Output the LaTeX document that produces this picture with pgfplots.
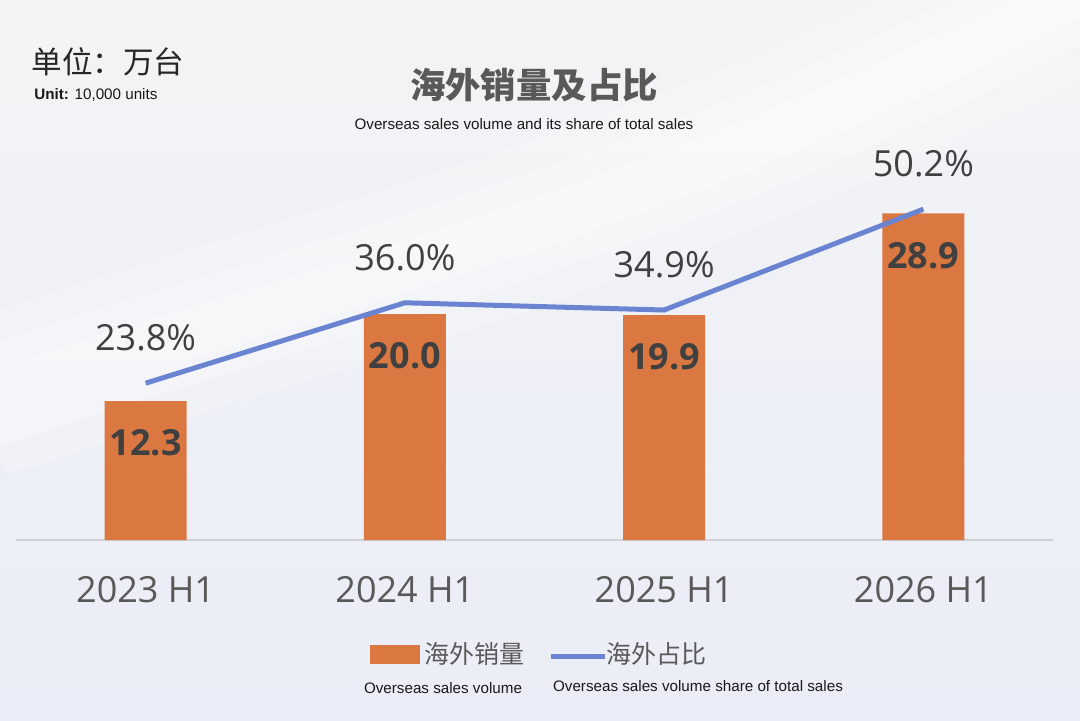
\documentclass[border=0pt]{standalone}
\usepackage{pgfplots}
\pgfplotsset{compat=1.18}
\usepackage{fontspec}
\setmainfont{Open Sans}
\newfontfamily\cjk{Noto Sans CJK SC}
\newfontfamily\arial{Liberation Sans}
\definecolor{barorange}{HTML}{DB7842}
\definecolor{lineblue}{HTML}{6A84D2}
\definecolor{txtgray}{HTML}{404040}
\definecolor{tickgray}{HTML}{595959}
\definecolor{bgtop}{HTML}{F4F4F6}
\definecolor{bgbot}{HTML}{EAEDF7}

\begin{document}
\begin{tikzpicture}[x=0.5pt,y=0.5pt]
% background, 1080 x 720 px
\shade[top color=bgtop,bottom color=bgbot] (0,0) rectangle (1080,720);
\begin{scope}
\clip (0,0) rectangle (1080,720);
\foreach \w/\o in {160/0.18,100/0.22,50/0.25}
  \draw[white,line width=\w*0.5pt,opacity=\o]
    (-20,720-400) .. controls (300,720-290) and (650,720-220) .. (1100,720+20);
\end{scope}
\coordinate (plotsw) at (16,180);

% headings
\node[anchor=west,inner sep=0,font=\cjk\fontsize{15.3}{18}\selectfont,text=black!85] at (31,720-62) {单位：万台};
\node[anchor=west,inner sep=0,font=\arial\fontsize{7.6}{9}\selectfont,text=black!90] at (34,720-95) {\textbf{Unit:} 10,000 units};
\node[inner sep=0,font=\cjk\bfseries\fontsize{17.7}{20}\selectfont,text=tickgray] at (534,720-85) {海外销量及占比};
\node[inner sep=0,font=\arial\fontsize{7.6}{9}\selectfont,text=black!90] at (524,720-124) {Overseas sales volume and its share of total sales};

% bars
\begin{axis}[at={(plotsw)},anchor=south west,scale only axis,
    width=518.5pt,height=200pt,
    xmin=-0.5,xmax=3.5,ymin=0,ymax=35.4,
    axis x line*=bottom,axis y line=none,
    axis line style={draw=black!18,line width=0.8pt,-},
    xtick={0,1,2,3},
    xticklabels={2023 H1,2024 H1,2025 H1,2026 H1},
    major tick length=0,
    xticklabel style={font=\fontsize{18}{20}\selectfont,text=tickgray,anchor=center,yshift=-25pt},
    /pgf/number format/assume math mode=true,
    clip=false]
\addplot[ybar,bar width=41pt,fill=barorange,draw=none,
    nodes near coords={\pgfmathprintnumber[fixed,fixed zerofill,precision=1]{\pgfplotspointmeta}},
    nodes near coords style={font=\bfseries\fontsize{18}{20}\selectfont,text=txtgray,anchor=center,yshift=-21pt}]
    coordinates {(0,12.3) (1,20.0) (2,19.9) (3,28.9)};
\end{axis}

% share line
\begin{axis}[at={(plotsw)},anchor=south west,scale only axis,
    width=518.5pt,height=200pt,
    xmin=-0.5,xmax=3.5,ymin=0,ymax=60.7,
    hide axis,clip=false,
    /pgf/number format/assume math mode=true]
\addplot[lineblue,line width=2.5pt,mark=none,
    nodes near coords={\pgfmathprintnumber[fixed,fixed zerofill,precision=1]{\pgfplotspointmeta}\%},
    nodes near coords style={font=\fontsize{18}{20}\selectfont,text=txtgray,anchor=center,yshift=22.5pt}]
    coordinates {(0,23.8) (1,36.0) (2,34.9) (3,50.2)};
\end{axis}

% legend
\fill[barorange] (370,720-664) rectangle (420,720-645);
\node[anchor=west,inner sep=0,font=\cjk\fontsize{12.5}{14}\selectfont,text=tickgray] at (424,720-654) {海外销量};
\draw[lineblue,line width=2.5pt] (551,720-656) -- (605,720-656);
\node[anchor=west,inner sep=0,font=\cjk\fontsize{12.5}{14}\selectfont,text=tickgray] at (606,720-654) {海外占比};
\node[inner sep=0,font=\arial\fontsize{7.6}{9}\selectfont,text=black!90] at (443,720-688) {Overseas sales volume};
\node[inner sep=0,font=\arial\fontsize{7.6}{9}\selectfont,text=black!90] at (698,720-686) {Overseas sales volume share of total sales};
\end{tikzpicture}
\end{document}
